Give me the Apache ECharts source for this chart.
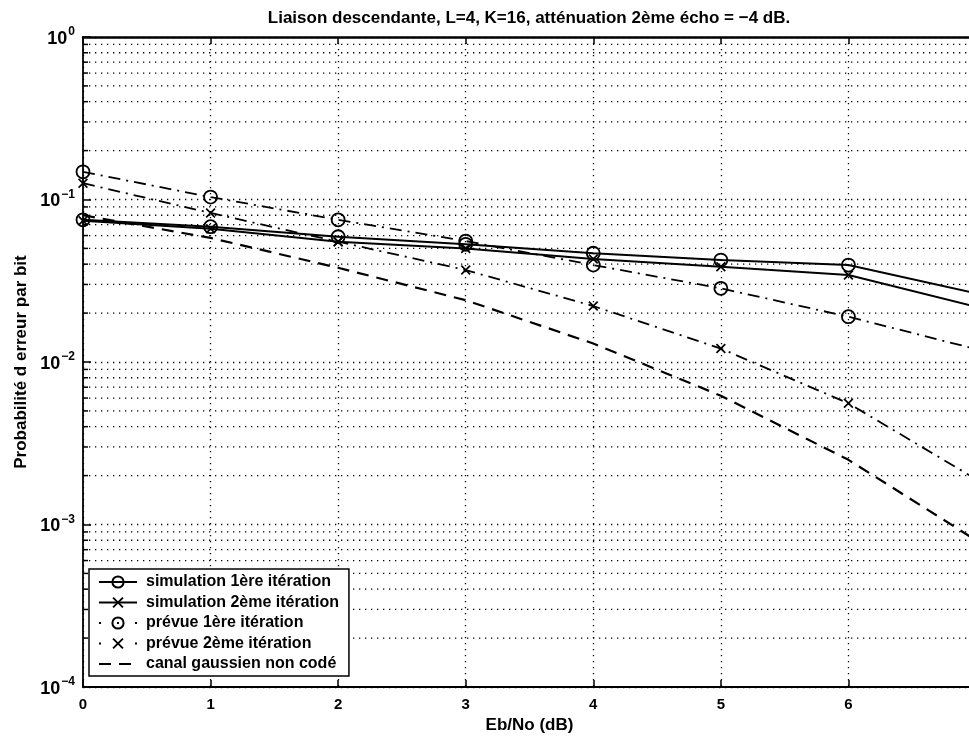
<!DOCTYPE html>
<html><head><meta charset="utf-8">
<script src="https://cdn.jsdelivr.net/npm/echarts@6/dist/echarts.min.js"></script>
<style>html,body{margin:0;padding:0;background:#fff}#c{width:969px;height:736px}</style>
</head><body><div id="c"></div>
<script>
// Eb/No (dB) sample points
const ebno = [0, 1, 2, 3, 4, 5, 6, 7];
// simulated bit error probability
const sim1 = [0.075, 0.068, 0.059, 0.053, 0.0467, 0.0424, 0.0395, 0.0265];
const sim2 = [0.074, 0.066, 0.055, 0.050, 0.043, 0.0386, 0.0343, 0.0219];
// predicted bit error probability
const prev1 = [0.148, 0.1035, 0.075, 0.0555, 0.0395, 0.0284, 0.019, 0.012];
const prev2 = [0.126, 0.0826, 0.055, 0.0368, 0.0221, 0.0121, 0.00557, 0.0019];
// uncoded gaussian channel
const gauss = [0.08, 0.058, 0.038, 0.024, 0.013, 0.0062, 0.0025, 0.0008];
// axis definition
const decades = [1e-4, 1e-3, 1e-2, 1e-1];
const minorMult = [2, 3, 4, 5, 6, 7, 8, 9];
const names = ['simulation 1ère itération', 'simulation 2ème itération', 'prévue 1ère itération', 'prévue 2ème itération', 'canal gaussien non codé'];

const minorVals = [];
decades.forEach(d => minorMult.forEach(m => minorVals.push(+(d * m).toPrecision(3))));

const FONT = 'Liberation Sans, Arial, Helvetica, sans-serif';
const xSym = 'path://M0,1.2 L1.2,0 L5,3.8 L8.8,0 L10,1.2 L6.2,5 L10,8.8 L8.8,10 L5,6.2 L1.2,10 L0,8.8 L3.8,5 Z';
const dotted = [1.3, 4.7];
const dashDot = [12, 6, 2, 6];

function pts(arr, markers) {
  return ebno.map((x, i) => {
    const item = { value: [x, arr[i]] };
    if (!markers || x > 6) item.symbol = 'none';
    return item;
  });
}

function lineSeries(name, arr, symbol, symSize, dash, width, fill) {
  return {
    name, type: 'line', data: pts(arr, !!symbol), xAxisIndex: 0, yAxisIndex: 0,
    symbol: symbol || 'none', symbolSize: symSize, showSymbol: true,
    lineStyle: { color: '#000', width: width, type: dash },
    itemStyle: { color: fill, borderColor: '#000', borderWidth: symbol === 'circle' ? 1.8 : 0 },
    emphasis: { disabled: true }, silent: true, animation: false, z: 5
  };
}

const chart = echarts.init(document.getElementById('c'), null, { renderer: 'canvas' });
chart.setOption({
  backgroundColor: '#fff',
  animation: false,
  textStyle: { fontFamily: FONT },
  title: {
    text: 'Liaison descendante, L=4, K=16, atténuation 2ème écho = −4 dB.',
    left: 524, top: 5, textAlign: 'center',
    textStyle: { fontSize: 17, fontWeight: 'bold', color: '#000', fontFamily: FONT }
  },
  grid: { left: 83, top: 37, right: -7, bottom: 49, outerBoundsMode: 'none', containLabel: false },
  legend: {
    orient: 'vertical', left: 89, top: 569,
    padding: [5, 10, 4, 9], itemWidth: 38, itemHeight: 14, itemGap: 4.5,
    borderColor: '#000', borderWidth: 1.5, backgroundColor: '#fff',
    textStyle: { fontSize: 16, fontWeight: 'bold', color: '#000', fontFamily: FONT, padding: [0, 0, 0, 4] },
    data: [
      { name: names[0] },
      { name: names[1] },
      { name: names[2], lineStyle: { type: [2, 16] } },
      { name: names[3], lineStyle: { type: [2, 16] } },
      { name: names[4], itemStyle: { opacity: 0 } }
    ],
    selectedMode: false, z: 20
  },
  xAxis: [{
    type: 'value', min: 0, max: 7, interval: 1,
    name: 'Eb/No (dB)', nameLocation: 'middle', nameGap: 30,
    nameTextStyle: { fontSize: 17, fontWeight: 'bold', color: '#000', fontFamily: FONT },
    axisLine: { show: true, onZero: false, lineStyle: { color: '#000', width: 1.8 } },
    axisTick: { show: true, inside: true, length: 7, lineStyle: { color: '#000', width: 1.5 } },
    axisLabel: { fontSize: 15, fontWeight: 'bold', color: '#000', margin: 10, fontFamily: FONT },
    splitLine: { show: true, lineStyle: { color: '#000', width: 1.3, type: dotted } }
  }, {
    type: 'value', min: 0, max: 7, interval: 1, position: 'top',
    axisLine: { show: true, onZero: false, lineStyle: { color: '#000', width: 2.5 } },
    axisTick: { show: true, inside: true, length: 7, lineStyle: { color: '#000', width: 1.5 } },
    axisLabel: { show: false }, splitLine: { show: false }
  }],
  yAxis: [{
    type: 'log', min: 1e-4, max: 1, logBase: 10,
    name: 'Probabilité d erreur par bit', nameLocation: 'middle', nameGap: 53,
    nameTextStyle: { fontSize: 17, fontWeight: 'bold', color: '#000', fontFamily: FONT },
    axisLine: { show: true, onZero: false, lineStyle: { color: '#000', width: 1.8 } },
    axisTick: { show: true, inside: true, length: 8, lineStyle: { color: '#000', width: 1.5 } },
    axisLabel: {
      margin: 8, color: '#000',
      formatter: v => {
        const e = Math.round(Math.log10(v));
        return '{b|10}{e|' + (e < 0 ? '−' + (-e) : e) + '}';
      },
      rich: {
        b: { fontSize: 18, fontWeight: 'bold', fontFamily: FONT, color: '#000', lineHeight: 22, verticalAlign: 'bottom' },
        e: { fontSize: 12, fontWeight: 'bold', fontFamily: FONT, color: '#000', lineHeight: 22, verticalAlign: 'top', padding: [0, 0, 12, 1] }
      }
    },
    splitLine: { show: true, lineStyle: { color: '#000', width: 1.3, type: dotted } }
  }],
  series: [
    {
      type: 'custom', name: 'minor', silent: true, z: 1,
      data: minorVals.map(v => [0, v]),
      renderItem: (params, api) => {
        const v = api.value(1);
        const a = api.coord([0, v]);
        const b = api.coord([7, v]);
        return { type: 'group', children: [
          { type: 'line', shape: { x1: a[0], y1: a[1], x2: b[0], y2: b[1] }, style: { stroke: '#000', lineWidth: 1.3, lineDash: dotted } },
          { type: 'line', shape: { x1: a[0], y1: a[1], x2: a[0] + 5, y2: a[1] }, style: { stroke: '#000', lineWidth: 1.5 } }
        ] };
      }
    },
    lineSeries(names[0], sim1, 'circle', 13, 'solid', 2, 'rgba(0,0,0,0)'),
    lineSeries(names[1], sim2, xSym, 10, 'solid', 2, '#000'),
    lineSeries(names[2], prev1, 'circle', 13, dashDot, 1.8, 'rgba(0,0,0,0)'),
    lineSeries(names[3], prev2, xSym, 10, dashDot, 1.8, '#000'),
    lineSeries(names[4], gauss, null, 0, [12, 8], 2.2, '#000')
  ]
});
</script>
</body></html>
